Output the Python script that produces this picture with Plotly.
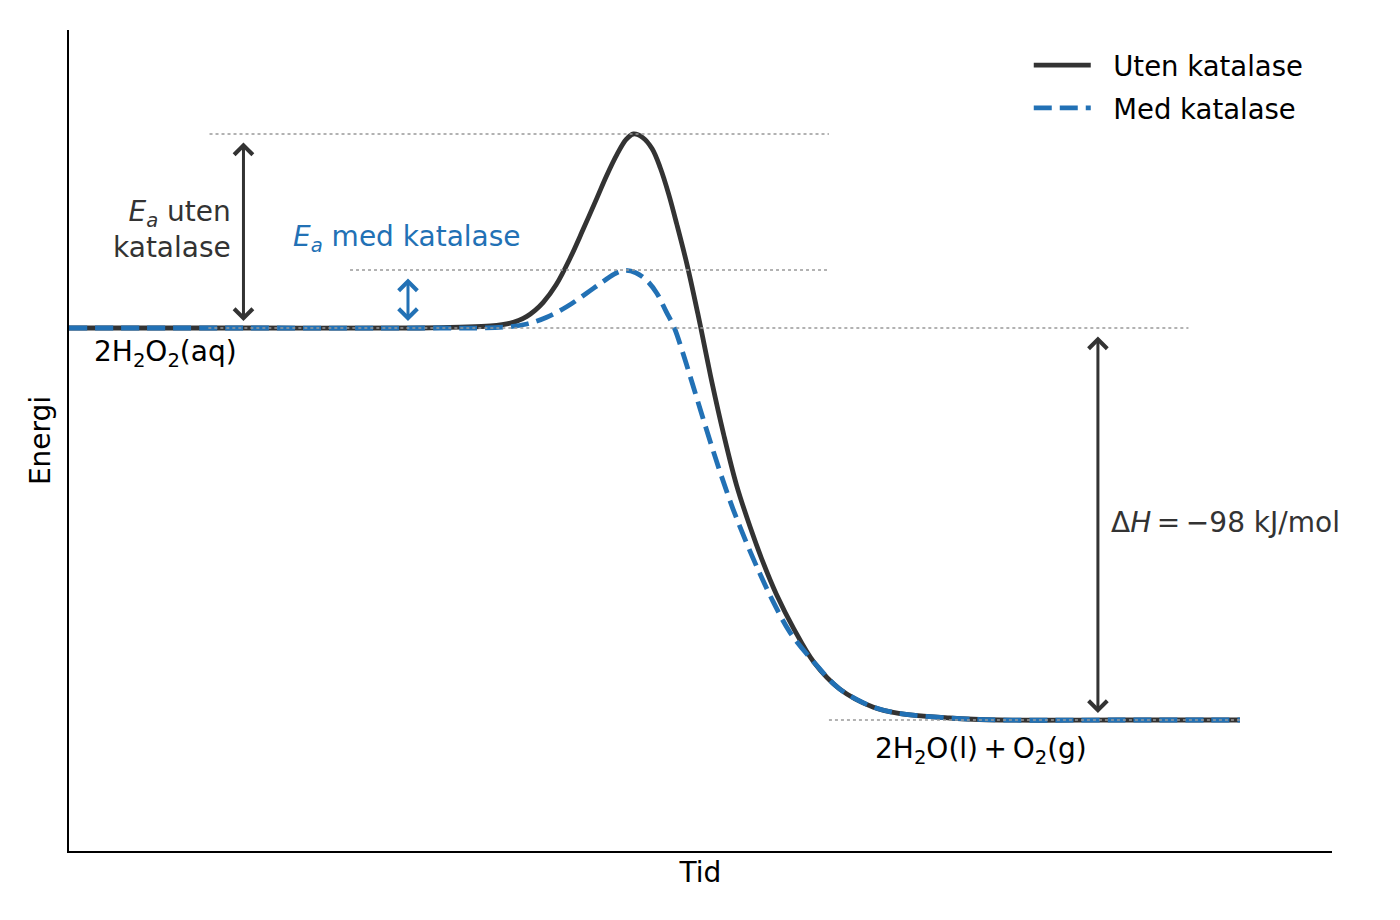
import plotly.graph_objects as go

# energy profile (x: reaction progress, y: energy kJ/mol)
x_uten = [0.0, 1.5, 3.0, 3.34, 3.60, 3.77, 3.84, 3.91, 3.98, 4.05, 4.16, 4.28,
          4.39, 4.51, 4.59, 4.68, 4.76, 4.82, 4.90, 4.98, 5.05, 5.12, 5.19,
          5.28, 5.37, 5.45, 5.49, 5.59, 5.70, 5.82, 5.93, 6.04, 6.19, 6.36,
          6.58, 6.87, 7.10, 7.52, 7.95, 9.0, 10.0]
y_uten = [0.0, 0.0, 0.0, 0.2, 0.5, 1.2, 1.9, 2.9, 4.4, 6.4, 10.8, 17.5,
          24.6, 32.6, 38.0, 43.4, 47.2, 48.5, 47.6, 44.8, 40.0, 33.6, 26.0,
          15.6, 3.6, -7.8, -13.5, -26.5, -39.2, -50.0, -58.8, -66.5, -75.2, -83.5,
          -90.2, -94.8, -96.4, -97.5, -98.0, -98.0, -98.0]

x_med = [0.0, 1.5, 3.0, 3.71, 3.91, 4.08, 4.25, 4.42, 4.56, 4.67, 4.75, 4.84,
         4.93, 5.02, 5.10, 5.17, 5.24, 5.33, 5.44, 5.56, 5.67, 5.79, 5.90,
         6.01, 6.16, 6.36, 6.58, 6.87, 7.10, 7.52, 7.95, 9.0, 10.0]
y_med = [0.0, 0.0, 0.0, 0.2, 1.0, 2.7, 5.3, 8.7, 11.6, 13.7, 14.4, 13.8,
         12.0, 8.7, 4.1, 0.0, -6.0, -14.5, -25.0, -36.0, -45.2, -54.0, -61.4,
         -68.2, -76.2, -83.5, -90.2, -94.8, -96.4, -97.5, -98.0, -98.0, -98.0]

e_reactant = 0.0
e_product = -98.0
e_peak_uten = 48.5
e_peak_med = 14.5

dark = '#333333'
blue = '#2271b5'
font_family = 'DejaVu Sans'
nb = '\u00a0\u00a0'
ts = '\u2009'

fig = go.Figure()

fig.add_trace(go.Scatter(x=x_uten, y=y_uten, mode='lines', name=nb + 'Uten katalase',
                         legendgroup='uten',
                         line=dict(color=dark, width=4.8, shape='spline', smoothing=1.0)))
fig.add_trace(go.Scatter(x=x_med, y=y_med, mode='lines', name=nb + 'Med katalase',
                         legendgroup='med',
                         line=dict(color=blue, width=4.8, dash='18px,8px',
                                   shape='spline', smoothing=1.0)))

# dotted reference levels
levels = [(1.2, 6.49, e_peak_uten), (2.4, 6.49, e_peak_med),
          (1.19, 9.56, e_reactant), (6.49, 10.0, e_product)]
for x0, x1, yv in levels:
    fig.add_shape(type='line', x0=x0, x1=x1, y0=yv, y1=yv, xref='x', yref='y',
                  layer='above', line=dict(color='#999999', width=1.6, dash='dot'))

# double arrows
arrows = [(1.49, e_peak_uten, e_reactant, dark),
          (2.895, e_peak_med, e_reactant, blue),
          (8.787, e_reactant, e_product, dark)]
for xa, ya, yb, col in arrows:
    fig.add_annotation(x=xa, y=yb, ax=xa, ay=ya, xref='x', yref='y', axref='x', ayref='y',
                       text='', showarrow=True, arrowhead=4, startarrowhead=4,
                       arrowside='end+start', arrowwidth=3, arrowsize=1.2,
                       startarrowsize=1.2, arrowcolor=col, standoff=7, startstandoff=7)

txt = dict(family=font_family, size=28)
fig.add_annotation(x=1.40, y=24.75, xref='x', yref='y', showarrow=False,
                   text='<i>E<sub>a</sub></i> uten<br>katalase', xanchor='right', align='right',
                   font=dict(txt, color=dark))
fig.add_annotation(x=2.89, y=22.5, xref='x', yref='y', showarrow=False,
                   text='<i>E<sub>a</sub></i> med katalase', font=dict(txt, color=blue))
fig.add_annotation(x=0.196, y=-6.25, xref='x', yref='y', showarrow=False, xanchor='left',
                   text='2H<sub>2</sub>O<sub>2</sub>(aq)', font=dict(txt, color='black'))
fig.add_annotation(x=8.88, y=-48.5, xref='x', yref='y', showarrow=False, xanchor='left',
                   text='Δ<i>H</i>' + ts + '=' + ts + '−98 kJ/mol', font=dict(txt, color=dark))
fig.add_annotation(x=7.79, y=-105.5, xref='x', yref='y', showarrow=False,
                   text='2H<sub>2</sub>O(l)' + ts + '+' + ts + 'O<sub>2</sub>(g)',
                   font=dict(txt, color='black'))

fig.update_xaxes(range=[0, 10.786], showline=True, linecolor='black', linewidth=2,
                 showgrid=False, zeroline=False, showticklabels=False, ticks='',
                 title=dict(text='Tid', standoff=10, font=dict(family=font_family, size=28, color='black')))
fig.update_yaxes(range=[-130.75, 74.5], showline=True, linecolor='black', linewidth=2,
                 showgrid=False, zeroline=False, showticklabels=False, ticks='',
                 title=dict(text='Energi', standoff=8, font=dict(family=font_family, size=28, color='black')))

# page body adds 8px offset, margins compensate
fig.update_layout(width=1400, height=920,
                  margin=dict(l=61, r=76, t=22, b=77),
                  plot_bgcolor='white', paper_bgcolor='white',
                  font=dict(family=font_family, size=28, color='black'),
                  showlegend=True,
                  legend=dict(x=0.9816, y=0.987, xanchor='right', yanchor='top',
                              bgcolor='rgba(0,0,0,0)', font=dict(size=27.5),
                              itemwidth=57, tracegroupgap=4, traceorder='grouped'),
                  hovermode=False)

fig.write_html("out.html")
